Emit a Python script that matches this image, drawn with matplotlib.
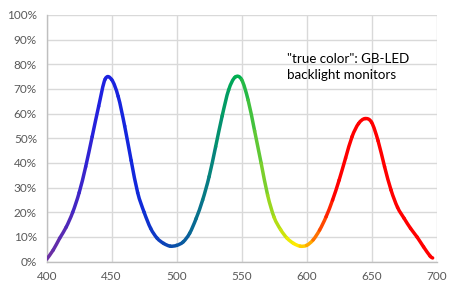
import matplotlib
matplotlib.use("Agg")
import matplotlib.pyplot as plt
from matplotlib.path import Path
from matplotlib.patches import PathPatch
from matplotlib.colors import LinearSegmentedColormap
from matplotlib.ticker import FuncFormatter
import numpy as np

# wavelength (nm) and relative intensity (%)
wavelength = [400, 405, 410, 415, 420, 425, 430, 435, 440, 445, 450, 455, 460, 465, 470,
              475, 480, 485, 490, 495, 500, 505, 510, 515, 520, 525, 530, 535, 540, 545,
              550, 555, 560, 565, 570, 575, 580, 585, 590, 595, 600, 605, 610, 615,
              620, 625, 630, 635, 640, 645, 650, 655, 660, 665, 670, 675, 680, 685, 690,
              695, 697]
intensity = [1, 4.7, 9.5, 14, 20, 28, 38.5, 50.7, 63, 74, 73.8, 67, 55, 41, 28,
             20, 13.5, 9.5, 7.4, 6.3, 6.6, 8, 11.5, 17.5, 25, 34.5, 46.6, 59, 69.6, 74.8,
             73.8, 65.5, 53, 40, 27, 18, 13, 9.5, 7.4, 6.3, 6.6, 8.8, 12.8, 18.2,
             25, 33, 42, 50.7, 56, 58, 56.5, 49, 38.5, 29, 22, 17.6, 13.5, 10, 6,
             2.3, 1.5]

xticks = [400, 450, 500, 550, 600, 650, 700]
yticks = [0, 10, 20, 30, 40, 50, 60, 70, 80, 90, 100]

# spectrum colours along wavelength
stops = [(400, "#7030A0"), (440, "#2020E0"), (470, "#1028DC"), (500, "#0A50A8"),
         (525, "#078080"), (547, "#00B050"), (565, "#70CC30"), (580, "#C0E010"),
         (592, "#FFF000"), (600, "#FFC000"), (610, "#FF6000"), (622, "#FF0000"),
         (700, "#FF0000")]
spec = LinearSegmentedColormap.from_list(
    "spec", [((w - 400) / 300.0, c) for w, c in stops])

fig = plt.figure(figsize=(4.6, 2.94), dpi=100)
ax = fig.add_axes([0.1015, 0.11, 0.8475, 0.839])

# smoothed line like Excel: one cubic bezier per data interval, coloured by wavelength
P = np.column_stack([wavelength, intensity]).astype(float)
n = len(P)
for i in range(n - 1):
    p0 = P[max(i - 1, 0)]
    p1 = P[i]
    p2 = P[i + 1]
    p3 = P[min(i + 2, n - 1)]
    c1 = p1 + (p2 - p0) / 6.0
    c2 = p2 - (p3 - p1) / 6.0
    path = Path([p1, c1, c2, p2], [Path.MOVETO, Path.CURVE4, Path.CURVE4, Path.CURVE4])
    col = spec(((p1[0] + p2[0]) / 2 - 400) / 300.0)
    ax.add_patch(PathPatch(path, fill=False, edgecolor=col, linewidth=2.5,
                           capstyle="round", joinstyle="round", zorder=3))

ax.set_xlim(400, 700)
ax.set_ylim(0, 100)
ax.set_xticks(xticks)
ax.set_yticks(yticks)
ax.yaxis.set_major_formatter(FuncFormatter(lambda v, p: "{:d}%".format(int(v))))
ax.grid(True, color="#D9D9D9", linewidth=1)
ax.set_axisbelow(True)
for s in ["top", "right"]:
    ax.spines[s].set_visible(False)
for s in ["left", "bottom"]:
    ax.spines[s].set_color("#BFBFBF")
    ax.spines[s].set_linewidth(1)
ax.tick_params(length=0, colors="#595959", labelsize=8.5, pad=7)
for lab in ax.get_xticklabels() + ax.get_yticklabels():
    lab.set_family("Lato")

ax.text(584.6, 82, "\"true color\": GB-LED", fontsize=9.6, family="Lato",
        color="black", va="center", ha="left")
ax.text(584.6, 75.5, "backlight monitors", fontsize=9.6, family="Lato",
        color="black", va="center", ha="left")

fig.savefig("out.png", dpi=100)
